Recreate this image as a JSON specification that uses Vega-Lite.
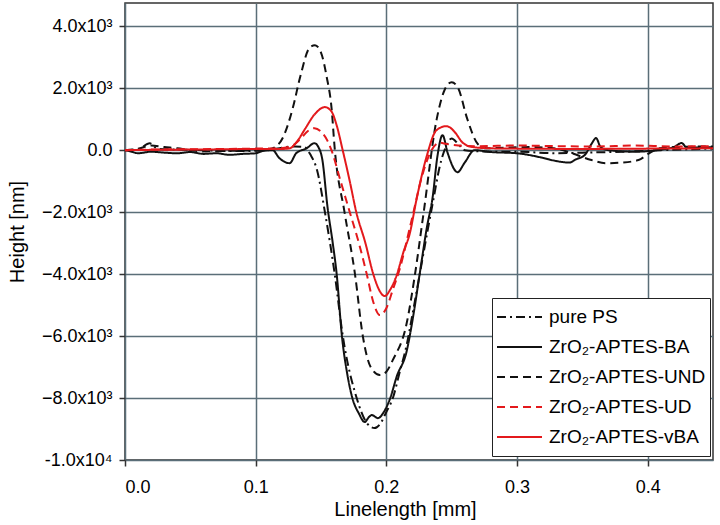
{
  "$schema": "https://vega.github.io/schema/vega-lite/v6.json",
  "width": 588,
  "height": 457,
  "autosize": "none",
  "padding": {"left": 125, "top": 3, "right": 7, "bottom": 65},
  "background": "white",
  "config": {
    "view": {"stroke": "#333333", "strokeWidth": 1.5},
    "font": "Liberation Sans",
    "axis": {"domain": false, "gridColor": "#5a6e78", "gridWidth": 1.5, "gridOpacity": 1, "tickColor": "#333333", "tickWidth": 1.5, "tickSize": 6, "labelColor": "#000000", "titleColor": "#000000", "titleFontWeight": "normal", "labelFont": "Liberation Sans", "titleFont": "Liberation Sans"}
  },
  "data": {"values": [
    {"series":"pure PS","length":0,"height":0},{"series":"pure PS","length":0.01,"height":30},{"series":"pure PS","length":0.019,"height":220},{"series":"pure PS","length":0.025,"height":40},{"series":"pure PS","length":0.04,"height":20},{"series":"pure PS","length":0.06,"height":0},{"series":"pure PS","length":0.08,"height":-30},{"series":"pure PS","length":0.1,"height":-20},{"series":"pure PS","length":0.11,"height":0},{"series":"pure PS","length":0.12,"height":80},{"series":"pure PS","length":0.13,"height":120},{"series":"pure PS","length":0.137,"height":100},{"series":"pure PS","length":0.142,"height":-150},{"series":"pure PS","length":0.147,"height":-650},{"series":"pure PS","length":0.153,"height":-2000},{"series":"pure PS","length":0.1605,"height":-4000},{"series":"pure PS","length":0.1667,"height":-6000},{"series":"pure PS","length":0.1773,"height":-8000},{"series":"pure PS","length":0.185,"height":-8800},{"series":"pure PS","length":0.191,"height":-8970},{"series":"pure PS","length":0.195,"height":-8850},{"series":"pure PS","length":0.2,"height":-8450},{"series":"pure PS","length":0.205,"height":-8000},{"series":"pure PS","length":0.21,"height":-7200},{"series":"pure PS","length":0.2155,"height":-6300},{"series":"pure PS","length":0.22,"height":-5300},{"series":"pure PS","length":0.226,"height":-3900},{"series":"pure PS","length":0.232,"height":-2500},{"series":"pure PS","length":0.236,"height":-1600},{"series":"pure PS","length":0.241,"height":-500},{"series":"pure PS","length":0.246,"height":150},{"series":"pure PS","length":0.25,"height":380},{"series":"pure PS","length":0.255,"height":200},{"series":"pure PS","length":0.26,"height":0},{"series":"pure PS","length":0.28,"height":-50},{"series":"pure PS","length":0.3,"height":-50},{"series":"pure PS","length":0.33,"height":-100},{"series":"pure PS","length":0.35,"height":-80},{"series":"pure PS","length":0.38,"height":-50},{"series":"pure PS","length":0.41,"height":0},{"series":"pure PS","length":0.45,"height":50},

    {"series":"ZrO₂-APTES-BA","length":0,"height":0},{"series":"ZrO₂-APTES-BA","length":0.005,"height":-50},{"series":"ZrO₂-APTES-BA","length":0.01,"height":-100},{"series":"ZrO₂-APTES-BA","length":0.02,"height":-50},{"series":"ZrO₂-APTES-BA","length":0.03,"height":-80},{"series":"ZrO₂-APTES-BA","length":0.04,"height":-100},{"series":"ZrO₂-APTES-BA","length":0.05,"height":-60},{"series":"ZrO₂-APTES-BA","length":0.06,"height":-120},{"series":"ZrO₂-APTES-BA","length":0.07,"height":-100},{"series":"ZrO₂-APTES-BA","length":0.08,"height":-150},{"series":"ZrO₂-APTES-BA","length":0.09,"height":-120},{"series":"ZrO₂-APTES-BA","length":0.1,"height":-100},{"series":"ZrO₂-APTES-BA","length":0.105,"height":-30},{"series":"ZrO₂-APTES-BA","length":0.113,"height":0},{"series":"ZrO₂-APTES-BA","length":0.118,"height":-250},{"series":"ZrO₂-APTES-BA","length":0.126,"height":-420},{"series":"ZrO₂-APTES-BA","length":0.131,"height":-100},{"series":"ZrO₂-APTES-BA","length":0.139,"height":60},{"series":"ZrO₂-APTES-BA","length":0.145,"height":225},{"series":"ZrO₂-APTES-BA","length":0.148,"height":100},{"series":"ZrO₂-APTES-BA","length":0.151,"height":-300},{"series":"ZrO₂-APTES-BA","length":0.155,"height":-1840},{"series":"ZrO₂-APTES-BA","length":0.159,"height":-3000},{"series":"ZrO₂-APTES-BA","length":0.162,"height":-4000},{"series":"ZrO₂-APTES-BA","length":0.166,"height":-6000},{"series":"ZrO₂-APTES-BA","length":0.17,"height":-7200},{"series":"ZrO₂-APTES-BA","length":0.174,"height":-8000},{"series":"ZrO₂-APTES-BA","length":0.179,"height":-8500},{"series":"ZrO₂-APTES-BA","length":0.1834,"height":-8775},{"series":"ZrO₂-APTES-BA","length":0.187,"height":-8600},{"series":"ZrO₂-APTES-BA","length":0.189,"height":-8550},{"series":"ZrO₂-APTES-BA","length":0.1935,"height":-8650},{"series":"ZrO₂-APTES-BA","length":0.1975,"height":-8490},{"series":"ZrO₂-APTES-BA","length":0.203,"height":-8000},{"series":"ZrO₂-APTES-BA","length":0.208,"height":-7300},{"series":"ZrO₂-APTES-BA","length":0.2155,"height":-6500},{"series":"ZrO₂-APTES-BA","length":0.22,"height":-5500},{"series":"ZrO₂-APTES-BA","length":0.2255,"height":-4000},{"series":"ZrO₂-APTES-BA","length":0.231,"height":-2500},{"series":"ZrO₂-APTES-BA","length":0.2355,"height":-1500},{"series":"ZrO₂-APTES-BA","length":0.239,"height":-225},{"series":"ZrO₂-APTES-BA","length":0.243,"height":485},{"series":"ZrO₂-APTES-BA","length":0.247,"height":-100},{"series":"ZrO₂-APTES-BA","length":0.2545,"height":-710},{"series":"ZrO₂-APTES-BA","length":0.26,"height":-400},{"series":"ZrO₂-APTES-BA","length":0.2675,"height":0},{"series":"ZrO₂-APTES-BA","length":0.28,"height":-60},{"series":"ZrO₂-APTES-BA","length":0.3,"height":-100},{"series":"ZrO₂-APTES-BA","length":0.32,"height":-250},{"series":"ZrO₂-APTES-BA","length":0.33,"height":-350},{"series":"ZrO₂-APTES-BA","length":0.34,"height":-400},{"series":"ZrO₂-APTES-BA","length":0.345,"height":-300},{"series":"ZrO₂-APTES-BA","length":0.352,"height":-150},{"series":"ZrO₂-APTES-BA","length":0.357,"height":200},{"series":"ZrO₂-APTES-BA","length":0.3605,"height":390},{"series":"ZrO₂-APTES-BA","length":0.364,"height":100},{"series":"ZrO₂-APTES-BA","length":0.37,"height":0},{"series":"ZrO₂-APTES-BA","length":0.39,"height":-50},{"series":"ZrO₂-APTES-BA","length":0.41,"height":20},{"series":"ZrO₂-APTES-BA","length":0.42,"height":100},{"series":"ZrO₂-APTES-BA","length":0.426,"height":230},{"series":"ZrO₂-APTES-BA","length":0.43,"height":80},{"series":"ZrO₂-APTES-BA","length":0.45,"height":100},

    {"series":"ZrO₂-APTES-UND","length":0,"height":0},{"series":"ZrO₂-APTES-UND","length":0.01,"height":50},{"series":"ZrO₂-APTES-UND","length":0.02,"height":150},{"series":"ZrO₂-APTES-UND","length":0.03,"height":100},{"series":"ZrO₂-APTES-UND","length":0.04,"height":60},{"series":"ZrO₂-APTES-UND","length":0.05,"height":0},{"series":"ZrO₂-APTES-UND","length":0.06,"height":-40},{"series":"ZrO₂-APTES-UND","length":0.08,"height":-20},{"series":"ZrO₂-APTES-UND","length":0.1,"height":0},{"series":"ZrO₂-APTES-UND","length":0.11,"height":30},{"series":"ZrO₂-APTES-UND","length":0.115,"height":100},{"series":"ZrO₂-APTES-UND","length":0.121,"height":420},{"series":"ZrO₂-APTES-UND","length":0.1286,"height":1390},{"series":"ZrO₂-APTES-UND","length":0.134,"height":2355},{"series":"ZrO₂-APTES-UND","length":0.1415,"height":3320},{"series":"ZrO₂-APTES-UND","length":0.1454,"height":3387},{"series":"ZrO₂-APTES-UND","length":0.15,"height":3150},{"series":"ZrO₂-APTES-UND","length":0.1544,"height":2355},{"series":"ZrO₂-APTES-UND","length":0.158,"height":1390},{"series":"ZrO₂-APTES-UND","length":0.1606,"height":0},{"series":"ZrO₂-APTES-UND","length":0.168,"height":-2000},{"series":"ZrO₂-APTES-UND","length":0.176,"height":-4000},{"series":"ZrO₂-APTES-UND","length":0.182,"height":-6000},{"series":"ZrO₂-APTES-UND","length":0.188,"height":-7000},{"series":"ZrO₂-APTES-UND","length":0.195,"height":-7260},{"series":"ZrO₂-APTES-UND","length":0.2,"height":-7150},{"series":"ZrO₂-APTES-UND","length":0.205,"height":-6770},{"series":"ZrO₂-APTES-UND","length":0.2156,"height":-5580},{"series":"ZrO₂-APTES-UND","length":0.2216,"height":-4100},{"series":"ZrO₂-APTES-UND","length":0.2285,"height":-2030},{"series":"ZrO₂-APTES-UND","length":0.2384,"height":970},{"series":"ZrO₂-APTES-UND","length":0.2445,"height":1935},{"series":"ZrO₂-APTES-UND","length":0.25,"height":2194},{"series":"ZrO₂-APTES-UND","length":0.255,"height":2000},{"series":"ZrO₂-APTES-UND","length":0.262,"height":1000},{"series":"ZrO₂-APTES-UND","length":0.27,"height":200},{"series":"ZrO₂-APTES-UND","length":0.2765,"height":60},{"series":"ZrO₂-APTES-UND","length":0.29,"height":80},{"series":"ZrO₂-APTES-UND","length":0.31,"height":100},{"series":"ZrO₂-APTES-UND","length":0.33,"height":50},{"series":"ZrO₂-APTES-UND","length":0.342,"height":-100},{"series":"ZrO₂-APTES-UND","length":0.357,"height":-320},{"series":"ZrO₂-APTES-UND","length":0.368,"height":-420},{"series":"ZrO₂-APTES-UND","length":0.38,"height":-400},{"series":"ZrO₂-APTES-UND","length":0.393,"height":-320},{"series":"ZrO₂-APTES-UND","length":0.401,"height":-100},{"series":"ZrO₂-APTES-UND","length":0.409,"height":60},{"series":"ZrO₂-APTES-UND","length":0.42,"height":100},{"series":"ZrO₂-APTES-UND","length":0.45,"height":120},

    {"series":"ZrO₂-APTES-UD","length":0,"height":0},{"series":"ZrO₂-APTES-UD","length":0.02,"height":20},{"series":"ZrO₂-APTES-UD","length":0.05,"height":30},{"series":"ZrO₂-APTES-UD","length":0.08,"height":40},{"series":"ZrO₂-APTES-UD","length":0.1,"height":50},{"series":"ZrO₂-APTES-UD","length":0.115,"height":50},{"series":"ZrO₂-APTES-UD","length":0.125,"height":100},{"series":"ZrO₂-APTES-UD","length":0.13,"height":200},{"series":"ZrO₂-APTES-UD","length":0.135,"height":400},{"series":"ZrO₂-APTES-UD","length":0.14,"height":620},{"series":"ZrO₂-APTES-UD","length":0.145,"height":710},{"series":"ZrO₂-APTES-UD","length":0.15,"height":600},{"series":"ZrO₂-APTES-UD","length":0.155,"height":300},{"series":"ZrO₂-APTES-UD","length":0.158,"height":0},{"series":"ZrO₂-APTES-UD","length":0.165,"height":-1000},{"series":"ZrO₂-APTES-UD","length":0.172,"height":-2000},{"series":"ZrO₂-APTES-UD","length":0.179,"height":-3000},{"series":"ZrO₂-APTES-UD","length":0.185,"height":-4000},{"series":"ZrO₂-APTES-UD","length":0.19,"height":-4900},{"series":"ZrO₂-APTES-UD","length":0.195,"height":-5320},{"series":"ZrO₂-APTES-UD","length":0.2,"height":-5100},{"series":"ZrO₂-APTES-UD","length":0.205,"height":-4500},{"series":"ZrO₂-APTES-UD","length":0.21,"height":-3870},{"series":"ZrO₂-APTES-UD","length":0.219,"height":-2320},{"series":"ZrO₂-APTES-UD","length":0.228,"height":-740},{"series":"ZrO₂-APTES-UD","length":0.2346,"height":0},{"series":"ZrO₂-APTES-UD","length":0.2407,"height":240},{"series":"ZrO₂-APTES-UD","length":0.246,"height":200},{"series":"ZrO₂-APTES-UD","length":0.255,"height":150},{"series":"ZrO₂-APTES-UD","length":0.27,"height":130},{"series":"ZrO₂-APTES-UD","length":0.3,"height":150},{"series":"ZrO₂-APTES-UD","length":0.33,"height":130},{"series":"ZrO₂-APTES-UD","length":0.36,"height":120},{"series":"ZrO₂-APTES-UD","length":0.39,"height":150},{"series":"ZrO₂-APTES-UD","length":0.42,"height":120},{"series":"ZrO₂-APTES-UD","length":0.45,"height":130},

    {"series":"ZrO₂-APTES-vBA","length":0,"height":0},{"series":"ZrO₂-APTES-vBA","length":0.02,"height":10},{"series":"ZrO₂-APTES-vBA","length":0.05,"height":20},{"series":"ZrO₂-APTES-vBA","length":0.08,"height":30},{"series":"ZrO₂-APTES-vBA","length":0.1,"height":40},{"series":"ZrO₂-APTES-vBA","length":0.12,"height":40},{"series":"ZrO₂-APTES-vBA","length":0.126,"height":60},{"series":"ZrO₂-APTES-vBA","length":0.132,"height":300},{"series":"ZrO₂-APTES-vBA","length":0.138,"height":700},{"series":"ZrO₂-APTES-vBA","length":0.145,"height":1150},{"series":"ZrO₂-APTES-vBA","length":0.153,"height":1390},{"series":"ZrO₂-APTES-vBA","length":0.158,"height":1250},{"series":"ZrO₂-APTES-vBA","length":0.162,"height":800},{"series":"ZrO₂-APTES-vBA","length":0.1666,"height":0},{"series":"ZrO₂-APTES-vBA","length":0.172,"height":-1000},{"series":"ZrO₂-APTES-vBA","length":0.177,"height":-2000},{"series":"ZrO₂-APTES-vBA","length":0.184,"height":-3000},{"series":"ZrO₂-APTES-vBA","length":0.19,"height":-4000},{"series":"ZrO₂-APTES-vBA","length":0.195,"height":-4550},{"series":"ZrO₂-APTES-vBA","length":0.1987,"height":-4710},{"series":"ZrO₂-APTES-vBA","length":0.203,"height":-4500},{"series":"ZrO₂-APTES-vBA","length":0.2077,"height":-4065},{"series":"ZrO₂-APTES-vBA","length":0.213,"height":-3300},{"series":"ZrO₂-APTES-vBA","length":0.218,"height":-2680},{"series":"ZrO₂-APTES-vBA","length":0.223,"height":-1610},{"series":"ZrO₂-APTES-vBA","length":0.2307,"height":-225},{"series":"ZrO₂-APTES-vBA","length":0.2384,"height":645},{"series":"ZrO₂-APTES-vBA","length":0.246,"height":775},{"series":"ZrO₂-APTES-vBA","length":0.2484,"height":740},{"series":"ZrO₂-APTES-vBA","length":0.253,"height":550},{"series":"ZrO₂-APTES-vBA","length":0.258,"height":260},{"series":"ZrO₂-APTES-vBA","length":0.266,"height":100},{"series":"ZrO₂-APTES-vBA","length":0.28,"height":60},{"series":"ZrO₂-APTES-vBA","length":0.3,"height":50},{"series":"ZrO₂-APTES-vBA","length":0.35,"height":40},{"series":"ZrO₂-APTES-vBA","length":0.4,"height":50},{"series":"ZrO₂-APTES-vBA","length":0.45,"height":60}
  ]},
  "mark": {"type": "line", "strokeWidth": 2, "interpolate": "monotone", "clip": true},
  "encoding": {
    "x": {"field": "length", "type": "quantitative",
      "scale": {"domain": [0, 0.45], "nice": false, "zero": false},
      "axis": {"title": "Linelength [mm]", "values": [0, 0.1, 0.2, 0.3, 0.4], "format": ".1f", "labelFontSize": 18, "titleFontSize": 20, "labelPadding": 12, "titlePadding": 3, "titleX": 280, "titleAlign": "center", "grid": true}},
    "y": {"field": "height", "type": "quantitative",
      "scale": {"domain": [-10000, 4750], "nice": false, "zero": false},
      "axis": {"title": "Height [nm]", "values": [-10000, -8000, -6000, -4000, -2000, 0, 2000, 4000],
        "labelExpr": "datum.value == 0 ? '0.0' : (datum.value == -10000 ? '-1.0x10⁴' : format(datum.value / 1000, '.1f') + 'x10³')",
        "labelFontSize": 18, "titleFontSize": 20, "labelPadding": 7, "titlePadding": 14, "grid": true}},
    "color": {"field": "series", "type": "nominal",
      "scale": {"domain": ["pure PS", "ZrO₂-APTES-BA", "ZrO₂-APTES-UND", "ZrO₂-APTES-UD", "ZrO₂-APTES-vBA"], "range": ["#111111", "#111111", "#111111", "#e3191c", "#e3191c"]},
      "legend": {"title": null, "orient": "none", "legendX": 367, "legendY": 295, "symbolType": "stroke", "symbolSize": 2025, "symbolStrokeWidth": 2, "labelFontSize": 19, "labelColor": "#000000", "labelFont": "Liberation Sans", "strokeColor": "#222222", "fillColor": "white", "padding": 4, "clipHeight": 30, "rowPadding": 0, "labelOffset": 6, "labelLimit": 300}},
    "strokeDash": {"field": "series", "type": "nominal",
      "scale": {"domain": ["pure PS", "ZrO₂-APTES-BA", "ZrO₂-APTES-UND", "ZrO₂-APTES-UD", "ZrO₂-APTES-vBA"], "range": [[9, 4, 2, 4], [1, 0], [8, 5], [8, 5], [1, 0]]},
      "legend": {"title": null, "orient": "none", "legendX": 367, "legendY": 295, "symbolType": "stroke", "symbolSize": 2025, "symbolStrokeWidth": 2, "labelFontSize": 19, "labelColor": "#000000", "labelFont": "Liberation Sans", "strokeColor": "#222222", "fillColor": "white", "padding": 4, "clipHeight": 30, "rowPadding": 0, "labelOffset": 6, "labelLimit": 300}}
  }
}
